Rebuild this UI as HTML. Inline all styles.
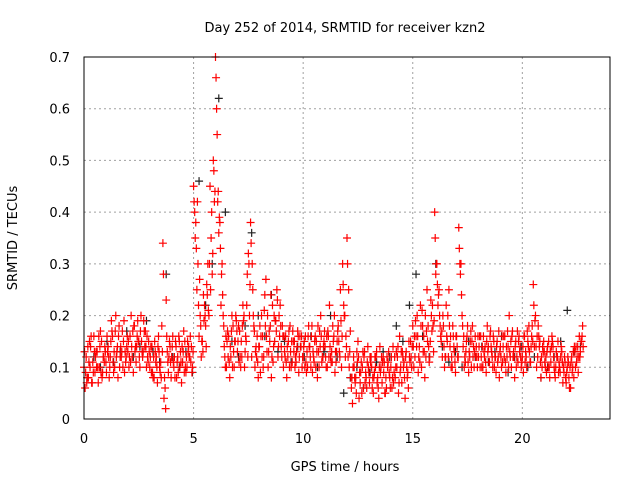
<!DOCTYPE html>
<html><head><meta charset="utf-8"><style>
body{margin:0;background:#fff}
svg{display:block;font-family:"DejaVu Sans","Liberation Sans",sans-serif}
</style></head><body>
<svg id="chart" width="640" height="480">
<text x="345" y="32" text-anchor="middle" font-size="13">Day 252 of 2014, SRMTID for receiver kzn2</text>
<text x="345" y="471" text-anchor="middle" font-size="13">GPS time / hours</text>
<text x="17" y="238" text-anchor="middle" font-size="13" transform="rotate(-90 17 238)">SRMTID / TECUs</text>
<g id="grid"></g>
<g id="ticks"></g>
<g id="marks"></g>
<rect x="84" y="57" width="526" height="362" fill="none" stroke="#000" stroke-width="1"/>
</svg>
<script>
const xTicks=[0,5,10,15,20];
const yTicks=[0,0.1,0.2,0.3,0.4,0.5,0.6,0.7];
const yTickLabels=["0","0.1","0.2","0.3","0.4","0.5","0.6","0.7"];
const redStep=0.1;
const redA=[.10,.12,.08,.14,.11,.09,.13,.10,.15,.12,
.11,.14,.12,.16,.10,.13,.18,.12,.15,.11,
.13,.16,.12,.18,.14,.15,.20,.13,.17,.12,
.10,.14,.08,.12,.16,.11,.34,.06,.13,.15,
.12,.10,.14,.09,.13,.11,.15,.10,.12,.14,
.45,.38,.30,.20,.15,.22,.26,.20,.35,.50,
.70,.42,.38,.30,.14,.10,.16,.12,.18,.15,
.13,.17,.12,.20,.15,.32,.38,.25,.10,.16,
.14,.20,.12,.27,.10,.18,.22,.15,.25,.20,
.14,.10,.16,.12,.18,.11,.15,.13,.09,.14,
.12,.16,.10,.14,.18,.11,.15,.13,.20,.12,
.14,.10,.22,.13,.16,.11,.18,.25,.30,.20,
.35,.10,.06,.12,.08,.15,.07,.10,.13,.06,
.09,.12,.05,.10,.08,.14,.07,.11,.06,.13,
.10,.14,.08,.12,.16,.07,.11,.13,.06,.15,
.18,.12,.20,.14,.10,.16,.12,.18,.15,.22,
.40,.30,.25,.15,.18,.12,.20,.14,.10,.13,
.16,.37,.30,.14,.11,.18,.12,.15,.10,.14,
.12,.16,.10,.14,.18,.11,.13,.15,.09,.12,
.14,.11,.16,.12,.20,.10,.13,.15,.11,.14,
.12,.16,.10,.18,.14,.26,.20,.12,.15,.10,
.13,.09,.15,.11,.14,.08,.12,.10,.13,.09,
.07,.11,.06,.10,.13,.12,.16,.15];
const redB=[.06,.08,.15,.07,.16,.13,.07,.17,.09,.14,
.16,.08,.19,.09,.20,.08,.12,.17,.09,.14,
.10,.20,.09,.14,.19,.10,.13,.17,.10,.15,
.14,.08,.13,.07,.10,.18,.04,.23,.09,.11,
.16,.08,.11,.15,.07,.17,.09,.13,.16,.10,
.40,.25,.16,.12,.24,.18,.30,.45,.28,.42,
.60,.36,.22,.20,.10,.17,.08,.20,.10,.19,
.18,.10,.22,.13,.28,.20,.12,.18,.14,.08,
.09,.16,.24,.13,.17,.08,.14,.19,.12,.22,
.18,.13,.08,.17,.10,.15,.12,.17,.16,.10,
.15,.09,.18,.10,.13,.16,.08,.17,.11,.15,
.10,.16,.12,.18,.09,.15,.13,.10,.22,.16,
.12,.17,.03,.08,.13,.04,.11,.06,.09,.14,
.12,.06,.09,.13,.04,.10,.12,.05,.10,.08,
.06,.09,.13,.05,.10,.12,.04,.08,.12,.10,
.10,.16,.09,.22,.18,.08,.25,.11,.20,.13,
.28,.22,.18,.12,.10,.16,.25,.10,.16,.09,
.12,.30,.20,.10,.15,.09,.17,.12,.16,.10,
.16,.10,.13,.09,.14,.17,.10,.12,.15,.08,
.10,.16,.09,.14,.12,.17,.08,.12,.16,.10,
.09,.13,.15,.11,.18,.14,.10,.16,.08,.13,
.10,.14,.08,.16,.10,.13,.09,.12,.07,.11,
.10,.06,.12,.08,.14,.09,.13,.18];
const redC=[.13,.07,.11,.16,.09,.12,.10,.14,.08,.11,
.09,.12,.15,.11,.17,.14,.10,.13,.19,.12,
.15,.11,.17,.13,.16,.12,.15,.19,.14,.11,
.12,.09,.15,.10,.13,.08,.28,.02,.11,.14,
.14,.12,.08,.16,.11,.13,.10,.15,.12,.09,
.42,.33,.22,.18,.13,.20,.24,.30,.40,.48,
.66,.44,.33,.24,.12,.15,.11,.17,.13,.20,
.15,.12,.18,.10,.22,.30,.34,.20,.13,.11,
.18,.12,.21,.16,.13,.24,.11,.19,.23,.16,
.12,.16,.11,.15,.13,.17,.10,.14,.12,.16,
.14,.11,.16,.12,.09,.15,.13,.10,.16,.14,
.12,.17,.14,.11,.20,.13,.15,.19,.26,.12,
.30,.13,.08,.10,.05,.12,.09,.13,.07,.11,
.07,.10,.08,.12,.06,.09,.11,.05,.12,.09,
.12,.07,.10,.14,.09,.13,.08,.10,.15,.12,
.14,.19,.16,.11,.21,.13,.17,.14,.23,.18,
.35,.26,.20,.17,.14,.22,.12,.16,.18,.11,
.14,.33,.24,.16,.13,.11,.15,.18,.13,.12,
.14,.12,.16,.11,.13,.16,.12,.10,.14,.17,
.12,.14,.11,.17,.13,.16,.12,.10,.15,.12,
.14,.11,.17,.13,.16,.22,.14,.18,.11,.14,
.11,.13,.10,.14,.12,.10,.15,.09,.11,.12,
.09,.08,.11,.13,.10,.14,.12,.16];
const redD=[.09,.14,.10,.07,.13,.10,.16,.09,.12,.13,
.13,.10,.17,.13,.12,.16,.14,.10,.13,.16,
.12,.14,.18,.11,.15,.17,.12,.14,.16,.13,
.09,.12,.11,.14,.09,.13,.08,.16,.12,.08,
.11,.15,.12,.10,.14,.09,.12,.14,.11,.13,
.35,.42,.27,.15,.19,.14,.21,.25,.32,.44,
.55,.39,.28,.18,.16,.12,.14,.10,.15,.17,
.11,.15,.19,.16,.12,.26,.30,.17,.12,.14,
.16,.10,.18,.20,.15,.12,.20,.17,.14,.18,
.16,.12,.14,.10,.15,.13,.11,.16,.14,.12,
.10,.13,.14,.16,.12,.10,.18,.14,.12,.17,
.16,.12,.11,.15,.13,.17,.12,.16,.20,.14,
.25,.08,.10,.07,.11,.09,.05,.12,.08,.10,
.11,.08,.12,.07,.10,.12,.09,.08,.11,.06,
.08,.12,.10,.07,.13,.10,.12,.09,.11,.14,
.16,.14,.12,.18,.13,.20,.15,.12,.17,.19,
.30,.24,.16,.20,.12,.15,.18,.12,.14,.16,
.12,.28,.18,.12,.16,.13,.10,.14,.12,.16,
.10,.14,.12,.15,.11,.14,.16,.12,.11,.13,
.16,.12,.14,.10,.15,.12,.14,.17,.13,.11,
.16,.12,.14,.11,.15,.19,.16,.14,.12,.15,
.12,.10,.13,.15,.09,.12,.11,.14,.10,.08,
.12,.10,.09,.14,.11,.12,.15,.14];
const blackStep=0.3;
const black=[.08,.12,.10,.15,.11,.13,.17,.12,.14,.19,.13,.11,.28,.12,.10,.13,.09,.46,.22,.30,.62,.40,.15,.12,.18,.36,.20,.16,.24,.13,.15,.11,.14,.12,.16,.10,.13,.20,.12,.05,.08,.10,.06,.09,.11,.13,.12,.18,.15,.22,.28,.16,.12,.30,.14,.11,.13,.10,.15,.12,.14,.11,.13,.16,.09,.12,.14,.10,.12,.08,.10,.12,.15,.21,.13,.14];

const X0=84,X1=610,Y0=419,Y1=57,XMAX=24,YMAX=0.7;
const xs=v=>X0+(X1-X0)*v/XMAX;
const ys=v=>Y0-(Y0-Y1)*v/YMAX;
const NS="http://www.w3.org/2000/svg";
function mk(tag,attrs,parent){const e=document.createElementNS(NS,tag);for(const k in attrs)e.setAttribute(k,attrs[k]);parent.appendChild(e);return e;}
const grid=document.getElementById('grid'),ticks=document.getElementById('ticks'),marks=document.getElementById('marks');
xTicks.forEach(t=>{
  const x=xs(t);
  if(t>0){const g=mk('line',{x1:x,x2:x,y1:Y1,y2:Y0,stroke:'#a0a0a0','stroke-dasharray':'2,3'},grid);
  
  }
  const l=mk('text',{x:x,y:Y0+24,'text-anchor':'middle','font-size':13},ticks);
  l.textContent=t;
  
  
});
yTicks.forEach((t,i)=>{
  const y=ys(t);
  if(i>0&&i<yTicks.length-1){const g=mk('line',{x1:X0,x2:X1,y1:y,y2:y,stroke:'#a0a0a0','stroke-dasharray':'2,3'},grid);
  
  }
  const l=mk('text',{x:X0-14,y:y+5,'text-anchor':'end','font-size':13},ticks);
  l.textContent=yTickLabels[i];
  
  
});
function plus(t,v,color,name){
  const x=xs(t),y=ys(v);
  const p=mk('path',{d:`M${x-4},${y}h8M${x},${y-4}v8`,stroke:color,'stroke-width':1.2,fill:'none'},marks);
  
  
}
black.forEach((v,i)=>plus(i*blackStep+0.15,v,'#222','black-point'));
redA.forEach((v,i)=>plus(i*redStep,v,'#ff0000','red-point'));
redB.forEach((v,i)=>plus(i*redStep+0.05,v,'#ff0000','red-point'));
redC.forEach((v,i)=>plus(i*redStep+0.025,v,'#ff0000','red-point'));
redD.forEach((v,i)=>plus(i*redStep+0.075,v,'#ff0000','red-point'));
</script>
</body></html>
